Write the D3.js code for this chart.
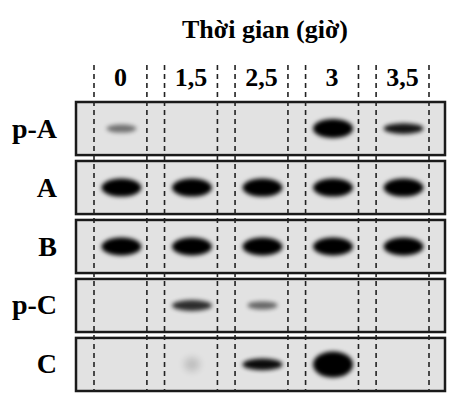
<!DOCTYPE html>
<html><head><meta charset="utf-8">
<script src="https://cdn.jsdelivr.net/npm/d3@7"></script>
<style>body{margin:0;background:#fff}</style></head>
<body><svg id="c" width="465" height="411"></svg>
<script>
const lanes = ["0","1,5","2,5","3","3,5"];
const rows = ["p-A","A","B","p-C","C"];
// band intensity per row (0..1) per lane
const pA = [0.5, 0, 0, 1, 0.9];
const A  = [1, 1, 1, 1, 1];
const B  = [1, 1, 1, 1, 1];
const pC = [0, 0.8, 0.55, 0, 0];
const C  = [0, 0.15, 0.95, 1, 0];
// band thickness (relative)
const pAh = [0.45, 0, 0, 1.05, 0.6];
const Ah  = [1, 1, 1, 1, 1];
const Bh  = [1, 1, 1, 1, 1];
const pCh = [0, 0.6, 0.45, 0, 0];
const Ch  = [0, 0.8, 0.65, 1.45, 0];
const title = "Thời gian (giờ)";

const intens = [pA, A, B, pC, C];
const thick = [pAh, Ah, Bh, pCh, Ch];
const svg = d3.select("#c");
const font = "'Liberation Serif','DejaVu Serif',serif";
const x = d3.scaleBand().domain(lanes).range([94, 429]).paddingInner(0.25).paddingOuter(0);
const y = d3.scaleBand().domain(rows).range([102, 391]).paddingInner(0.1);
const defs = svg.append("defs");
defs.append("filter").attr("id","bl").attr("x","-50%").attr("y","-100%").attr("width","200%").attr("height","300%")
  .append("feGaussianBlur").attr("stdDeviation", 2);
defs.append("filter").attr("id","bl2").attr("x","-100%").attr("y","-100%").attr("width","300%").attr("height","300%")
  .append("feGaussianBlur").attr("stdDeviation", 3.5);

svg.append("text").attr("x", 265).attr("y", 38).attr("text-anchor","middle")
  .attr("font-family", font).attr("font-weight","bold").attr("font-size", 26).text(title);

const px0 = 76, px1 = 445;
rows.forEach((r, ri) => {
  const g = svg.append("g");
  g.append("rect").attr("x", px0).attr("y", y(r)).attr("width", px1-px0).attr("height", y.bandwidth())
    .attr("fill", "#e2e2e2").attr("stroke", "#1a1a1a").attr("stroke-width", 2.5);
  svg.append("text").attr("x", 57).attr("y", y(r)+y.bandwidth()/2+9).attr("text-anchor","end")
    .attr("font-family", font).attr("font-weight","bold").attr("font-size", 28).text(r);
  lanes.forEach((l, li) => {
    const v = intens[ri][li]; if (!v) return;
    const h = thick[ri][li];
    const cx = x(l) + x.bandwidth()/2, cy = y(r) + y.bandwidth()/2;
    const w = v < 0.3 ? 8 : (v < 0.6 ? 15 : 20);
    g.append("ellipse").attr("cx", cx+1).attr("cy", cy).attr("rx", w).attr("ry", 9*h)
      .attr("fill", "#000").attr("opacity", v).attr("filter", v < 0.3 ? "url(#bl2)" : "url(#bl)");
  });
});
lanes.forEach(l => {
  [x(l), x(l)+x.bandwidth()].forEach(xx => {
    svg.append("line").attr("x1", xx).attr("x2", xx).attr("y1", 65).attr("y2", 391)
      .attr("stroke", "#222").attr("stroke-width", 1.6).attr("stroke-dasharray", "5,4");
  });
  svg.append("text").attr("x", x(l)+x.bandwidth()/2).attr("y", 86).attr("text-anchor","middle")
    .attr("font-family", font).attr("font-weight","bold").attr("font-size", 26).text(l);
});
</script></body></html>
